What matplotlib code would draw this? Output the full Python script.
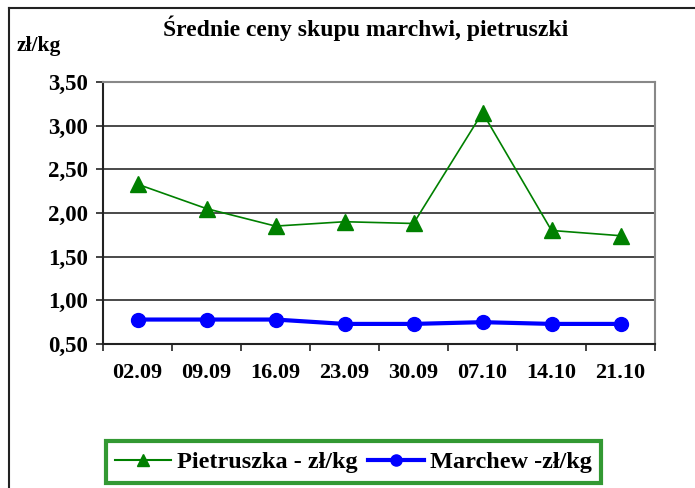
import matplotlib
matplotlib.use("Agg")
import matplotlib.pyplot as plt
from matplotlib.lines import Line2D
from matplotlib.ticker import FuncFormatter

# data
dates = ["02.09", "09.09", "16.09", "23.09", "30.09", "07.10", "14.10", "21.10"]
pietruszka = [2.33, 2.05, 1.85, 1.90, 1.88, 3.15, 1.80, 1.74]
marchew = [0.78, 0.78, 0.78, 0.73, 0.73, 0.75, 0.73, 0.73]

plt.rcParams['font.family'] = ['Liberation Serif', 'DejaVu Serif']
plt.rcParams['font.weight'] = 'bold'

W, H = 695, 488
fig = plt.figure(figsize=(W / 100, H / 100), dpi=100)

def px(x0, y0, x1, y1):
    return (x0 / W, 1 - y1 / H, (x1 - x0) / W, (y1 - y0) / H)

ax = fig.add_axes(px(103, 82, 655, 344))

x = list(range(len(dates)))
ax.plot(x, pietruszka, color='#008000', lw=1.2, marker='^', ms=12,
        zorder=3, clip_on=False)
ax.plot(x, marchew, color='#0000FF', lw=3, marker='o', ms=10,
        zorder=3, clip_on=False)

ax.set_xlim(-0.5, len(dates) - 0.5)
ax.set_ylim(0.5, 3.5)
ax.set_yticks([0.5, 1.0, 1.5, 2.0, 2.5, 3.0, 3.5])
ax.yaxis.set_major_formatter(FuncFormatter(lambda v, p: f"{v:.2f}".replace('.', ',')))
ax.set_xticks(x)
ax.set_xticklabels(dates)
ax.set_xticks([i - 0.5 for i in range(len(dates) + 1)], minor=True)
ax.tick_params(axis='x', which='major', length=0, pad=14, labelsize=16)
ax.tick_params(axis='x', which='minor', length=5, width=1.2, color='#222222')
ax.tick_params(axis='y', length=5, width=1.2, color='#222222', pad=6, labelsize=16.5)

ax.grid(axis='y', color='#2a2a2a', lw=1.2)
ax.set_axisbelow(True)
for s in ['top', 'right']:
    ax.spines[s].set_color('#888888')
    ax.spines[s].set_linewidth(1.5)
for s in ['left', 'bottom']:
    ax.spines[s].set_color('#222222')
    ax.spines[s].set_linewidth(1.5)

fig.text(366 / W, 1 - 28 / H, "Średnie ceny skupu marchwi, pietruszki",
         ha='center', va='center', fontsize=17, fontweight='bold')
fig.text(17 / W, 1 - 46 / H, "zł/kg", ha='left', va='center',
         fontsize=15.5, fontweight='bold')

# outer chart border (left and top visible)
fig.add_artist(Line2D([9 / W, 9 / W], [0, 1 - 8 / H], color='#222222', lw=1.5))
fig.add_artist(Line2D([9 / W, 1], [1 - 8 / H, 1 - 8 / H], color='#222222', lw=1.5))

handles = [
    Line2D([], [], color='#008000', lw=1.5, marker='^', ms=9),
    Line2D([], [], color='#0000FF', lw=3, marker='o', ms=8),
]
leg = fig.legend(handles, ["Pietruszka - zł/kg", "Marchew -zł/kg"],
                 loc='center', bbox_to_anchor=(353.5 / W, 1 - 462 / H), ncol=2,
                 fancybox=False, frameon=True, fontsize=17.5, handlelength=2.3,
                 handletextpad=0.25, columnspacing=0.4, borderpad=0.4,
                 borderaxespad=0)
leg.get_frame().set_edgecolor('#008000')
leg.get_frame().set_linewidth(3)

fig.savefig("out.png", dpi=100)
